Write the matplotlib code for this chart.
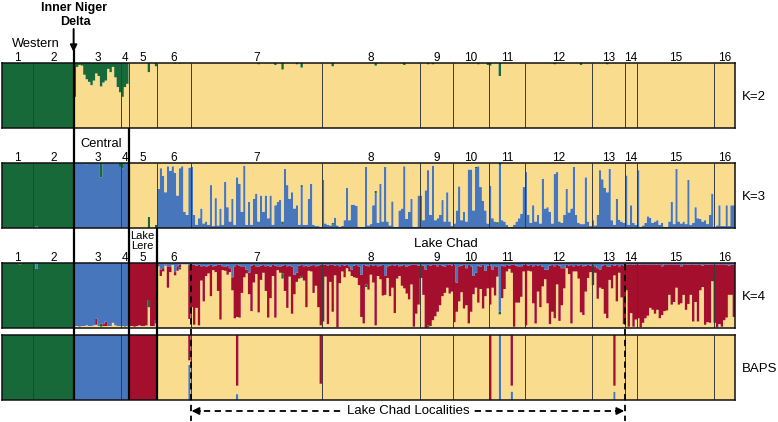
import numpy as np
import matplotlib.pyplot as plt
from matplotlib.transforms import blended_transform_factory

plt.rcParams['font.family'] = ['Liberation Sans', 'DejaVu Sans']

GREEN = '#17693a'
YELLOW = '#f9dc8d'
BLUE = '#4876bd'
RED = '#a50f2e'

pop_labels = ['1', '2', '3', '4', '5', '6', '7', '8', '9', '10', '11', '12', '13', '14', '15', '16']
pop_sizes = [13, 17, 20, 3, 12, 14, 55, 41, 14, 15, 15, 28, 14, 5, 32, 9]

# K=2 : green share (rest yellow), one line per population
k2_green = [
    1, 1, 1, 1, 1, 1, 1, 1, 1, 1, 1, 1, 1,
    1, 1, 1, 1, 1, 1, 1, 1, 1, 1, 1, 1, 1, 1, 1, 1, 1,
    .52, .06, .03, .04, .18, .25, .29, .34, .27, .16, .2, .36, .3, .27, .09, .14, .06, .22, .37, .45,
    .52, .37, .32,
    0, 0, 0, 0, 0, 0, 0, 0, .14, 0, 0, .05,
    0, 0, 0, 0, 0, 0, 0, .01, 0, .01, 0, 0, 0, 0,
    0, 0, 0, 0, 0, 0, 0, 0, 0, 0, 0, 0, 0, 0, 0, 0, 0, 0, 0, 0, 0, 0, 0, 0, 0, 0, 0, 0, .02, 0,
    0, 0, 0, 0, 0, .03, 0, 0, .1, 0, 0, 0, 0, 0, .02, 0, .07, 0, 0, 0, 0, 0, 0, 0, 0,
    0, 0, 0, 0, .05, 0, 0, 0, 0, 0, 0, 0, 0, 0, 0, 0, 0, 0, 0, 0, 0, 0, .04, 0, 0, 0, 0, 0, 0, 0,
    0, 0, 0, 0, .03, 0, 0, 0, 0, 0, 0,
    0, 0, 0, .02, 0, .02, 0, 0, 0, 0, 0, 0, 0, 0,
    0, 0, 0, 0, 0, 0, 0, 0, 0, 0, .02, 0, 0, 0, .03,
    .04, 0, 0, 0, .2, 0, 0, 0, 0, 0, 0, 0, 0, 0, 0,
    0, 0, 0, 0, 0, 0, 0, 0, 0, 0, 0, 0, .02, 0, 0, 0, 0, 0, 0, 0, 0, 0, 0, .03, 0, 0, 0, 0,
    0, 0, 0, 0, 0, 0, .02, 0, 0, 0, 0, 0, 0, 0,
    0, 0, 0, 0, 0,
    0, 0, 0, 0, 0, 0, 0, 0, 0, 0, 0, 0, 0, 0, 0, 0, 0, 0, 0, 0, 0, 0, 0, 0, 0, 0, 0, 0, 0, 0, 0, 0,
    0, 0, 0, 0, 0, 0, 0, 0, 0,
]

# K=3 : blue (bottom), green, yellow (rest, top)
k3_blue = [
    0, 0, 0, 0, 0, 0, 0, 0, 0, 0, 0, 0, 0,
    0, .03, 0, 0, 0, 0, 0, 0, 0, 0, 0, 0, 0, 0, 0, 0, 0,
    .98, 1, 1, 1, 1, .98, 1, 1, 1, 1, 1, .78, 1, 1, 1, 1, 1, 1, 1, .94,
    .92, 1, 1,
    0, 0, 0, 0, 0, 0, 0, 0, 0, 0, 0, 0,
    .6, .92, .8, .55, .95, .88, .95, .85, .5, .92, .95, .25, .2, .93,
    .94, .2, .05, .15, .3, .05, .1, .05, .66, .03, .46, .04, .3, .05, .71, .32, .1, .45, .05, .78,
    .68, .25, .96, .05, .4, .05, .45, .53, .1, .5, .25, .5, .15, .5, .05, .35, .4, .43, .05, .91,
    .66, .45, .55, .3, .35, .05, .63, .05, .05, .45, .68, .05, .03, .03, .02,
    .74, .07, .05, .04, .05, .16, .04, .02, .03, .12, .62, .12, .36, .36, .34, .02, .02, .02, .94, .04,
    .06, .35, .53, .08, .68, .1, .94, .1, .04, .41, .02, .02, .27, .3, .95, .14, .25, .45, .02, .02, .5,
    .5, .12, .58, .89, .2, .96, .12, .15, .2, .43, .1, .55, .1, .03,
    .07, .27, .64, .12, .25, .1, .9, .9, .27, .92, .95, .63, .42, .27, .07,
    .65, .15, .1, .06, .97, .12, .1, .05, .02, .02, .05, .1, .15, .22, .63,
    .86, .2, .08, .35, .1, .2, .07, .76, .3, .32, .25, .07, .83, .86, .08, .08, .2, .6, .24, .3,
    .94, .2, .08, .06, .06, .78, .1, .03,
    .12, .04, .2, .89, .75, .62, .55, .91, .12, .05, .45, .13, .1, .08,
    .81, .05, .35, .08, .05,
    .89, .02, .04, .08, .18, .16, .08, .1, .12, .05, .08, .02, .02, .1, .4, .06, .91, .1, .07, .1,
    .06, .74, .05, .08, .32, .15, .14, .1, .12, .06, .2, .53,
    .02, .04, .35, .03, .03, .35, .03, .35, .35,
]
k3_green = [
    1, 1, 1, 1, 1, 1, 1, 1, 1, 1, 1, 1, 1,
    1, .97, 1, 1, 1, 1, 1, 1, 1, 1, 1, 1, 1, 1, 1, 1, 1,
    .02, 0, 0, 0, 0, .02, 0, 0, 0, 0, 0, .22, 0, 0, 0, 0, 0, 0, 0, .06,
    .08, 0, 0,
    0, 0, 0, 0, 0, 0, 0, 0, .17, 0, 0, .05,
    0, 0, 0, 0, 0, 0, 0, 0, 0, 0, 0, 0, 0, 0,
    0, 0, 0, 0, 0, .02, 0, 0, 0, 0, 0, 0, 0, 0, 0, 0, 0, 0, 0, 0, 0, 0, 0, 0, 0, 0, 0, 0, 0, 0,
    0, 0, 0, 0, 0, 0, 0, 0, .05, 0, 0, 0, 0, 0, 0, 0, .03, 0, 0, 0, 0, 0, 0, 0, 0,
    0, 0, 0, 0, .03, 0, 0, 0, 0, 0, 0, 0, 0, 0, 0, 0, 0, 0, 0, 0, 0, 0, .04, 0, 0, 0, 0, 0, 0, 0,
    0, 0, 0, 0, 0, 0, 0, 0, 0, 0, 0,
    0, 0, 0, 0, 0, 0, 0, 0, 0, 0, 0, 0, 0, 0,
    0, 0, 0, 0, 0, 0, 0, 0, 0, .02, 0, 0, 0, 0, 0,
    0, 0, 0, .03, .03, 0, 0, 0, 0, 0, 0, 0, 0, 0, 0,
    0, 0, 0, 0, 0, 0, 0, 0, 0, 0, 0, 0, 0, 0, .02, 0, 0, 0, 0, 0, 0, 0, 0, 0, 0, 0, 0, 0,
    0, 0, 0, 0, 0, 0, 0, 0, 0, 0, 0, 0, 0, 0,
    0, 0, 0, 0, 0,
    0, 0, 0, 0, 0, 0, 0, 0, 0, 0, 0, 0, 0, 0, 0, 0, 0, 0, 0, 0, 0, 0, 0, 0, 0, 0, 0, 0, 0, 0, 0, 0,
    0, 0, 0, 0, 0, 0, 0, 0, 0,
]

# K=4 : yellow (rest, bottom), green, red, blue (top)
k4_green = [
    1, 1, 1, 1, 1, 1, 1, .98, 1, 1, 1, 1, 1,
    1, .91, 1, 1, 1, 1, 1, 1, 1, 1, 1, 1, 1, 1, 1, 1, 1,
    0, 0, 0, 0, 0, 0, 0, 0, 0, 0, 0, .05, 0, 0, 0, 0, 0, 0, 0, 0,
    0, 0, 0,
    0, 0, 0, 0, 0, 0, 0, 0, .11, 0, 0, .05,
    0, 0, 0, 0, 0, 0, 0, 0, 0, .03, 0, 0, 0, 0,
    0, 0, 0, 0, 0, 0, 0, 0, 0, 0, 0, 0, 0, 0, 0, 0, 0, 0, 0, 0, 0, 0, 0, 0, 0, 0, 0, 0, 0, 0,
    0, 0, 0, 0, 0, 0, 0, 0, .08, 0, 0, 0, 0, 0, 0, 0, .03, 0, 0, 0, 0, 0, 0, 0, 0,
    0, 0, 0, 0, 0, 0, 0, 0, 0, 0, 0, 0, 0, 0, 0, 0, 0, 0, .04, 0, 0, 0, 0, 0, 0, 0, 0, 0, 0, 0,
    0, 0, 0, 0, 0, 0, 0, 0, 0, 0, 0,
    0, 0, 0, .03, 0, 0, 0, 0, 0, 0, 0, 0, 0, 0,
    0, 0, 0, 0, 0, 0, 0, 0, 0, 0, 0, 0, 0, 0, 0,
    0, 0, 0, 0, .04, 0, 0, 0, 0, 0, 0, 0, 0, 0, 0,
    0, 0, 0, 0, 0, 0, 0, 0, 0, 0, 0, 0, 0, 0, 0, 0, 0, 0, 0, 0, 0, 0, 0, 0, 0, 0, 0, 0,
    0, 0, 0, 0, 0, 0, 0, 0, 0, 0, 0, 0, 0, 0,
    0, 0, 0, 0, 0,
    0, 0, 0, 0, 0, 0, 0, 0, 0, 0, 0, 0, 0, 0, 0, 0, 0, 0, 0, 0, 0, 0, 0, 0, 0, 0, 0, 0, 0, 0, 0, 0,
    0, 0, 0, 0, 0, 0, 0, 0, 0,
]
k4_red = [
    0, 0, 0, 0, 0, 0, 0, .02, 0, 0, 0, 0, 0,
    0, 0, 0, 0, 0, 0, 0, 0, 0, 0, 0, 0, 0, 0, 0, 0, 0,
    0, 0, 0, 0, 0, 0, 0, 0, 0, .09, 0, 0, .03, .07, 0, 0, 0, 0, 0, 0,
    0, 0, 0,
    .97, .97, .98, .97, .96, .97, .97, .96, .57, .97, .97, .88,
    .02, .1, .05, .02, .33, .08, 0, .05, .07, .05, 0, 0, 0, .83,
    .65, .93, .65, .93, .22, .55, .14, .12, .48, .06, .1, .4, .85, .06, .06, .14, .06, .2, .8, .8,
    .8, .4, .17, .06, .33, .7, .27, .12, .7, .22, .12, .38, .8, .48, .17, .8, .06, .09, .12, .4,
    .64, .17, .72, .3, .14, .2, .17, .22, .64, .06, .09, .43, .3, .64, .93,
    .88, .18, .9, .26, .73, .15, .96, .26, .1, .18, .05, .08, .1, .18, .2, .29, .65, .9, .29, .36,
    .15, .26, .93, .15, .21, .47, .29, .18, .47, .35, .73, .21, .15, .31, .36, .41, .52, .3, .96, .75, .6,
    .2, .45, .9, .93, .93, .85, .8, .7, .62, .47, .4, .35, .45, .4,
    .88, .45, .54, .41, .67, .57, .9, .7, .28, .23, .57, .34, .67, .39, .35,
    .6, .28, .45, .15, 0, .5, .35, .1, .05, .12, .96, .57, .55, .47, .1,
    .93, .08, .1, .57, .9, .4, .65, .3, .15, .52, .9, .72, .8, .3, .85, .57, .31, .05, .13, .9,
    .08, .1, .2, .73, .75, .4, .2, .1,
    .31, .1, .47, .28, .36, .75, .8, .2, .36, .15, .57, .1, .5, .9,
    .4, .95, .75, .95, .85,
    .83, .96, .9, .83, .78, .67, .7, .75, .7, .83, .75, .72, .7, .47, .62, .57, .36, .62, .57, .47,
    .7, .6, .47, .88, .57, .88, .4, .33, .93, .88, .9, .26,
    .9, .96, .92, .96, .85, .82, .45, .47, .8,
]
k4_blue = [
    0, 0, 0, 0, 0, 0, 0, 0, 0, 0, 0, 0, 0,
    0, .09, 0, 0, 0, 0, 0, 0, 0, 0, 0, 0, 0, 0, 0, 0, 0,
    .97, .97, .98, .97, .97, .96, .97, .97, .96, .86, .97, .93, .94, .9, .97, .97, .92, .96, .97, .97,
    .97, .98, .97,
    0, 0, 0, 0, 0, 0, 0, 0, 0, 0, 0, 0,
    .03, .1, .08, .02, .05, .06, .03, .14, .05, .02, .02, .02, .02, .03,
    .03, .02, .04, .03, .05, .04, .06, .04, .03, .05, .04, .03, .02, .05, .06, .04, .08, .22, .05, .03,
    .04, .06, .05, .1, .15, .04, .03, .05, .06, .04, .03, .05, .04, .06, .03, .04, .05, .06, .04, .03,
    .05, .04, .06, .18, .15, .04, .03, .05, .04, .06, .04, .03, .05, .04, .03,
    .02, .03, .04, .03, .02, .04, .03, .05, .03, .04, .03, .05, .1, .04, .03, .05, .18, .03, .04, .05,
    .03, .04, .03, .05, .04, .03, .2, .05, .04, .03, .04, .03, .05, .04, .03, .06, .04, .03, .02, .03, .04,
    .03, .04, .1, .03, .04, .03, .02, .05, .03, .04, .06, .03, .02, .04,
    .03, .3, .05, .04, .03, .08, .03, .05, .2, .15, .04, .06, .03, .12, .04,
    .04, .1, .05, .06, .75, .04, .05, .03, .04, .03, .02, .04, .06, .05, .03,
    .03, .04, .03, .05, .03, .04, .03, .06, .1, .1, .04, .03, .05, .03, .04, .08, .08, .03, .04, .03,
    .05, .03, .04, .03, .05, .04, .03, .04,
    .03, .05, .08, .1, .04, .03, .05, .06, .03, .04, .02, .05, .03, .04,
    .02, .03, .02, .03, .02,
    .02, .03, .02, .02, .03, .02, .02, .03, .02, .02, .05, .02, .03, .02, .02, .03, .02, .02, .05, .02,
    .02, .03, .02, .02, .03, .02, .02, .04, .02, .03, .02, .02,
    .02, .03, .02, .02, .03, .02, .04, .02, .03,
]

# BAPS : cluster of each population, plus the few mixed individuals (red top, blue bottom)
baps_pop_cluster = ['green', 'green', 'blue', 'blue', 'red', 'yellow', 'yellow', 'yellow',
                    'yellow', 'yellow', 'yellow', 'yellow', 'yellow', 'yellow', 'yellow', 'yellow']
baps_mixed_idx = [78, 98, 133, 204, 208, 213, 256]
baps_mixed_red = [.39, .78, .75, 1.0, 0, .78, .78]
baps_mixed_blue = [.54, .09, 0, 0, 1.0, .13, .13]

n = sum(pop_sizes)
bounds = np.concatenate([[0], np.cumsum(pop_sizes)])
centers = (bounds[:-1] + bounds[1:]) / 2
edges = np.arange(n + 1)

W, H = 778, 422
fig = plt.figure(figsize=(W / 100, H / 100), dpi=100)
LEFT, RIGHT = 2, 735


def make_panel(top, bottom):
    ax = fig.add_axes([LEFT / W, 1 - bottom / H, (RIGHT - LEFT) / W, (bottom - top) / H])
    ax.set_xlim(0, n)
    ax.set_ylim(0, 1)
    ax.set_xticks([])
    ax.set_yticks([])
    for s in ax.spines.values():
        s.set_linewidth(1.1)
        s.set_color('#111111')
    return ax


def stack(ax, layers):
    base = np.zeros(n)
    for vals, col in layers:
        top = base + np.asarray(vals, dtype=float)
        ax.stairs(top, edges, baseline=base, fill=True, color=col, lw=0)
        base = top
    ax.vlines(bounds[1:-1], 0, 1, color='#3a3a3a', lw=0.7)


# K=2
ax2 = make_panel(63, 128)
g2 = np.array(k2_green, dtype=float)
stack(ax2, [(1 - g2, YELLOW), (g2, GREEN)])

# K=3
ax3 = make_panel(163, 228)
b3 = np.array(k3_blue, dtype=float)
g3 = np.array(k3_green, dtype=float)
stack(ax3, [(b3, BLUE), (g3, GREEN), (np.clip(1 - b3 - g3, 0, None), YELLOW)])

# K=4
ax4 = make_panel(263, 328)
g4 = np.array(k4_green, dtype=float)
r4 = np.array(k4_red, dtype=float)
b4 = np.array(k4_blue, dtype=float)
y4 = np.clip(1 - g4 - r4 - b4, 0, None)
stack(ax4, [(y4, YELLOW), (g4, GREEN), (r4, RED), (b4, BLUE)])

# BAPS
axb = make_panel(335, 400)
colors = {'green': 0, 'blue': 1, 'red': 2, 'yellow': 3}
frac = np.zeros((4, n))
for p, cl in enumerate(baps_pop_cluster):
    frac[colors[cl], bounds[p]:bounds[p + 1]] = 1
for i, r, b in zip(baps_mixed_idx, baps_mixed_red, baps_mixed_blue):
    frac[:, i] = [0, b, r, 1 - r - b]
stack(axb, [(frac[0], GREEN), (frac[1], BLUE), (frac[3], YELLOW), (frac[2], RED)])

# overlay for annotations (pixel coords, x tied to individuals where needed)
over = fig.add_axes([0, 0, 1, 1])
over.set_xlim(0, W)
over.set_ylim(H, 0)
over.axis('off')
over.set_autoscale_on(False)
tr = blended_transform_factory(ax2.transData, over.transData)

for base_y in [61, 161, 261]:
    for c, lab in zip(centers, pop_labels):
        over.text(c, base_y, lab, transform=tr, ha='center', va='baseline', fontsize=8.5)

for lab, yb in [('K=2', 100), ('K=3', 200), ('K=4', 300), ('BAPS', 372)]:
    over.text(742, yb, lab, ha='left', va='baseline', fontsize=9.5)

lw_thick = 1.6
over.plot([bounds[2], bounds[2]], [50, 400], transform=tr, color='k', lw=lw_thick, solid_capstyle='butt')
over.plot([bounds[4], bounds[4]], [128, 400], transform=tr, color='k', lw=lw_thick, solid_capstyle='butt')
over.plot([bounds[5], bounds[5]], [228, 400], transform=tr, color='k', lw=lw_thick, solid_capstyle='butt')
over.annotate('', xy=(bounds[2], 52), xytext=(bounds[2], 29), xycoords=tr, textcoords=tr,
              arrowprops=dict(arrowstyle='-|>', color='k', lw=1.4, mutation_scale=10,
                              shrinkA=0, shrinkB=0))

over.text(74, 10.5, 'Inner Niger', ha='center', va='baseline', fontsize=9, fontweight='bold')
over.text(75, 25, 'Delta', ha='center', va='baseline', fontsize=9, fontweight='bold')
over.text(36, 47, 'Western', ha='center', va='baseline', fontsize=9.3)
over.text(101, 147, 'Central', ha='center', va='baseline', fontsize=9.3)
over.text(142, 239, 'Lake', ha='center', va='baseline', fontsize=8)
over.text(142, 249, 'Lere', ha='center', va='baseline', fontsize=8)
over.text(446, 247, 'Lake Chad', ha='center', va='baseline', fontsize=9.5)

# Lake Chad localities bracket
dash = (0, (3.5, 2.5))
for b in [bounds[6], bounds[13]]:
    over.plot([b, b], [264, 421], transform=tr, color='k', lw=1.3, linestyle=dash)
over.plot([bounds[6] + 1, bounds[13] - 1], [411, 411], transform=tr, color='k', lw=1.3, linestyle=dash)
over.annotate('', xy=(bounds[6] + 0.4, 411), xytext=(bounds[6] + 4, 411), xycoords=tr, textcoords=tr,
              arrowprops=dict(arrowstyle='-|>', color='k', lw=1.2, mutation_scale=11, shrinkA=0, shrinkB=0))
over.annotate('', xy=(bounds[13] - 0.4, 411), xytext=(bounds[13] - 4, 411), xycoords=tr, textcoords=tr,
              arrowprops=dict(arrowstyle='-|>', color='k', lw=1.2, mutation_scale=11, shrinkA=0, shrinkB=0))
over.text((bounds[6] + bounds[13]) / 2, 411, 'Lake Chad Localities', transform=tr, ha='center', va='center',
          fontsize=9.5, bbox=dict(facecolor='white', edgecolor='none', pad=2))

fig.savefig('out.png', dpi=100)
